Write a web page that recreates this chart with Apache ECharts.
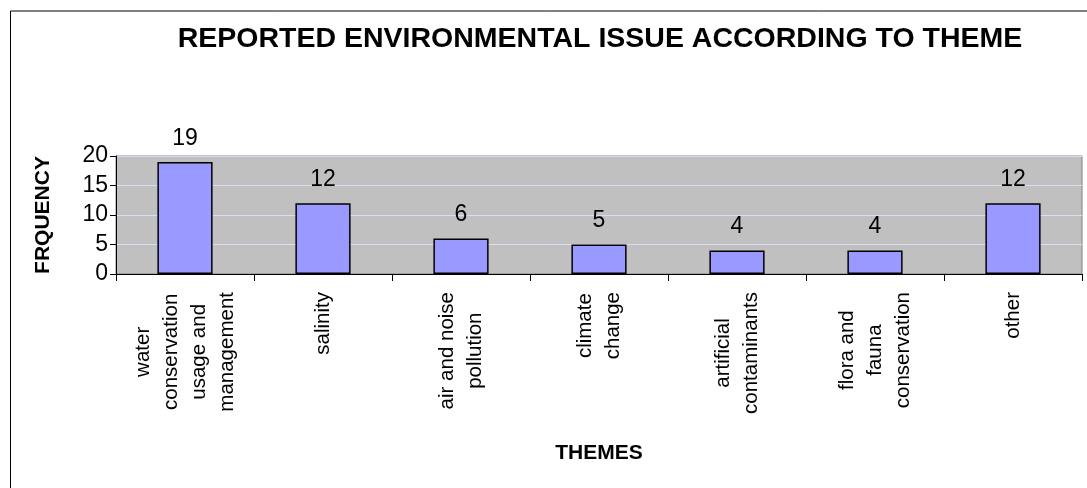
<!DOCTYPE html>
<html>
<head>
<meta charset="utf-8">
<script src="https://cdn.jsdelivr.net/npm/echarts@6/dist/echarts.min.js"></script>
<style>
  html, body { margin: 0; padding: 0; background: #ffffff; }
  #chart { width: 1087px; height: 488px; }
</style>
</head>
<body>
<div id="chart"></div>
<script>
// Themes of reported environmental issues and how often each was reported
const themes = [
  'water\nconservation\nusage and\nmanagement',
  'salinity',
  'air and noise\npollution',
  'climate\nchange',
  'artificial\ncontaminants',
  'flora and\nfauna\nconservation',
  'other'
];
const frequency = [19, 12, 6, 5, 4, 4, 12];
const yTicks = { min: 0, max: 20, interval: 5 };

const FONT = 'Arial, "Liberation Sans", sans-serif';

const chart = echarts.init(document.getElementById('chart'), null, { renderer: 'canvas' });

// Each wrapped line of a category label is centred within its block
function centredLines(text) {
  return text.split('\n').map(l => '{c|' + l + '}').join('\n');
}

chart.setOption({
  backgroundColor: '#ffffff',
  animation: false,
  title: {
    text: 'REPORTED ENVIRONMENTAL ISSUE ACCORDING TO THEME',
    left: 595,
    top: 20,
    textAlign: 'center',
    textStyle: { fontFamily: FONT, fontSize: 28.5, fontWeight: 'bold', color: '#000' }
  },
  graphic: [{
    type: 'rect',
    silent: true,
    z: -1,
    shape: { x: 10.5, y: 11, width: 1200, height: 600 },
    style: { fill: 'none', stroke: '#000', lineWidth: 1 }
  }],
  grid: {
    left: 116, right: 5, top: 156, bottom: 214,
    show: true,
    backgroundColor: '#C0C0C0',
    borderColor: '#808080',
    borderWidth: 1
  },
  xAxis: {
    type: 'category',
    data: themes,
    name: 'THEMES',
    nameLocation: 'middle',
    nameGap: 169,
    nameTextStyle: { fontFamily: FONT, fontSize: 21, fontWeight: 'bold', color: '#000' },
    axisLine: { lineStyle: { color: '#000', width: 1 } },
    axisTick: { show: true, length: 7, lineStyle: { color: '#000' } },
    axisLabel: {
      interval: 0,
      rotate: 90,
      margin: 18,
      color: '#000',
      fontFamily: FONT,
      fontSize: 20.5,
      lineHeight: 28,
      formatter: centredLines,
      rich: {
        c: { align: 'center', fontFamily: FONT, fontSize: 20.5, lineHeight: 28, color: '#000' }
      }
    }
  },
  yAxis: {
    type: 'value',
    min: yTicks.min,
    max: yTicks.max,
    interval: yTicks.interval,
    name: 'FRQUENCY',
    nameLocation: 'middle',
    nameGap: 62,
    nameRotate: 90,
    nameTextStyle: { fontFamily: FONT, fontSize: 21, fontWeight: 'bold', color: '#000' },
    axisLine: { show: true, lineStyle: { color: '#000', width: 1 } },
    axisTick: { show: true, length: 6, lineStyle: { color: '#000' } },
    axisLabel: { margin: 8, color: '#000', fontFamily: FONT, fontSize: 23 },
    splitLine: { show: true, lineStyle: { color: '#DCDCF8', width: 1 } }
  },
  series: [{
    type: 'bar',
    data: frequency,
    barWidth: '40%',
    itemStyle: { color: '#9999FF', borderColor: '#000', borderWidth: 1.5 },
    label: {
      show: true,
      position: 'top',
      distance: 12,
      color: '#000',
      fontFamily: FONT,
      fontSize: 23
    }
  }]
});
</script>
</body>
</html>
